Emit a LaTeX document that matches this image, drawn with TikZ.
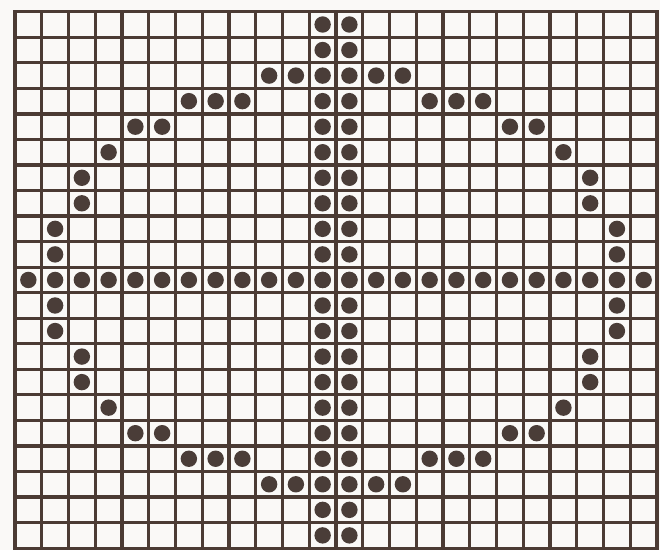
\documentclass[tikz,border=0pt]{standalone}
\begin{document}
\begin{tikzpicture}[x=26.75pt, y=25.54pt]
    % Define colours
    \definecolor{gridColour}{HTML}{4B3B34}
    \definecolor{dotColour}{HTML}{4A3D38}
    \definecolor{paperColour}{HTML}{FAF9F7}

    % Define grid size
    \def\numCols{24}
    \def\numRows{21}
    \def\dotRadius{8.2pt}

    % Fix the page
    \fill[paperColour] (-0.56,-0.08) rectangle (24.11,21.46);
    \useasboundingbox (-0.56,-0.08) rectangle (24.11,21.46);

    % Draw grid
    \foreach \x in {0,...,\numCols}
        \draw[gridColour, line width=3.2pt, line cap=rect] (\x,0) -- (\x,\numRows);
    \foreach \y in {0,...,\numRows}
        \draw[gridColour, line width=3.2pt, line cap=rect] (0,\y) -- (\numCols,\y);

    % Draw the vertical bar of the cross
    \foreach \r in {0,...,20}
        \foreach \c in {11,12}
            \fill[dotColour] (\c+0.5,20.5-\r) circle (\dotRadius);

    % Draw the horizontal bar of the cross
    \foreach \c in {0,...,23}
        \fill[dotColour] (\c+0.5,10.5) circle (\dotRadius);

    % Draw the short bars at top and bottom
    \foreach \r in {2,18}
        \foreach \c in {9,10,13,14}
            \fill[dotColour] (\c+0.5,20.5-\r) circle (\dotRadius);

    % Draw the ring (left half, mirrored to the right)
    \foreach \c/\r in {6/3,7/3,8/3,4/4,5/4,3/5,2/6,2/7,1/8,1/9,
                       1/11,1/12,2/13,2/14,3/15,4/16,5/16,6/17,7/17,8/17} {
        \fill[dotColour] (\c+0.5,20.5-\r) circle (\dotRadius);
        \fill[dotColour] (23.5-\c,20.5-\r) circle (\dotRadius);
    }

\end{tikzpicture}
\end{document}
